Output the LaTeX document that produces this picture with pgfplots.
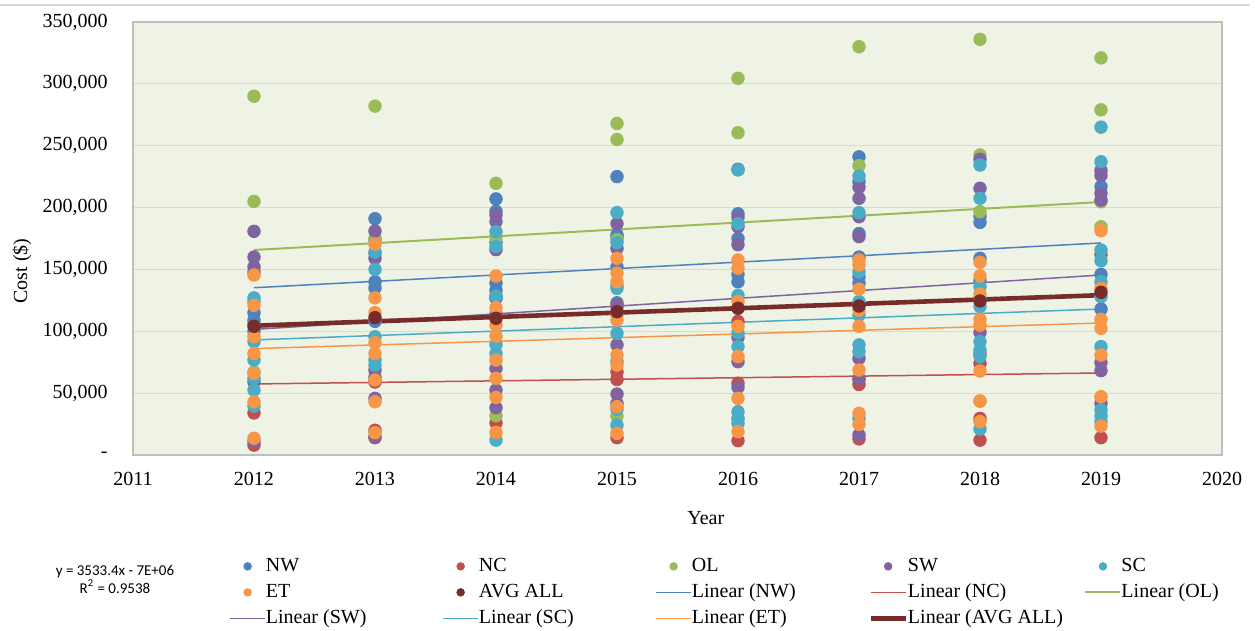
\documentclass[border=0pt]{standalone}
\usepackage{fontspec}
\setmainfont{Liberation Serif}
\newfontfamily\calibri{Carlito}
\usepackage{pgfplots}
\pgfplotsset{compat=1.18}
\definecolor{cNW}{HTML}{4F81BD}
\definecolor{cNC}{HTML}{C0504D}
\definecolor{cOL}{HTML}{9BBB59}
\definecolor{cSW}{HTML}{8064A2}
\definecolor{cSC}{HTML}{4BACC6}
\definecolor{cET}{HTML}{F79646}
\definecolor{cAVG}{HTML}{772C2A}
\definecolor{plotbg}{HTML}{EFF3E5}
\definecolor{gridc}{HTML}{D9D9D9}
\definecolor{axc}{HTML}{BFBFBF}
\newcommand{\lent}[1]{\makebox[88.25pt][l]{#1}}
\begin{document}
\begin{tikzpicture}
\useasboundingbox (-66.5pt,-88pt) rectangle (561pt,227.5pt);
\draw[gridc, line width=0.7pt] (-66.5pt,225pt) -- (558.5pt,225pt);
\begin{axis}[
  at={(0,0)}, anchor=south west,
  scale only axis, width=544.5pt, height=216.5pt,
  xmin=2011, xmax=2020, ymin=0, ymax=350000,
  scaled y ticks=false, scaled x ticks=false,
  xtick={2011,2012,2013,2014,2015,2016,2017,2018,2019,2020},
  xticklabels={2011,2012,2013,2014,2015,2016,2017,2018,2019,2020},
  ytick={0,50000,100000,150000,200000,250000,300000,350000},
  yticklabels={{-},{50,000},{100,000},{150,000},{200,000},{250,000},{300,000},{350,000}},
  major tick length=0pt,
  ymajorgrids, grid style={gridc, line width=0.6pt},
  axis line style={axc, line width=0.9pt},
  axis background/.style={fill=plotbg},
  tick label style={font=\fontsize{10}{12}\selectfont, inner sep=0pt},
  y tick label style={xshift=-12.5pt},
  x tick label style={yshift=-8.5pt},
  xlabel={Year}, ylabel={Cost (\$)},
  label style={font=\fontsize{10}{12}\selectfont, inner sep=0pt},
  xlabel style={at={(axis description cs:0.526,0)}, anchor=center, yshift=-31.5pt},
  ylabel style={at={(axis description cs:0,0.425)}, anchor=center, yshift=55.5pt},
  legend columns=5,
  legend style={at={(axis description cs:0.08815,-0.2332)}, anchor=north west, draw=none, fill=none,
    font=\fontsize{10}{12}\selectfont, inner sep=0pt, row sep=3pt,
    nodes={inner xsep=0pt, inner ysep=0pt, text height=7.5pt, text depth=2.5pt}},
  legend cell align=left,
  legend image code/.code={\draw[mark repeat=2,mark phase=2,#1,mark size=1.9pt] plot coordinates {(0pt,0pt) (8.75pt,0pt) (17.5pt,0pt)};},
  every axis plot/.append style={mark options={draw=none}},
]
% scatter series
\addplot[cNW, only marks, mark=*, mark size=3.15pt] coordinates {
(2012,115000)(2012,109000)(2012,100000)(2012,106000)
(2013,191000)(2013,174000)(2013,163000)(2013,140000)(2013,135000)(2013,108000)
(2014,207000)(2014,197000)(2014,172000)(2014,139000)(2014,133000)(2014,128000)
(2015,225000)(2015,178000)(2015,176000)(2015,152000)(2015,123000)
(2016,231000)(2016,195000)(2016,175000)(2016,146000)(2016,140000)
(2017,241000)(2017,221000)(2017,179000)(2017,160000)(2017,144000)(2017,139000)
(2018,193000)(2018,188000)(2018,159000)(2018,141000)
(2019,217000)(2019,146000)(2019,118000)};
\addlegendentry{\lent{NW}}
\addplot[cNC, only marks, mark=*, mark size=3.15pt] coordinates {
(2012,34000)(2012,8000)
(2013,59000)(2013,20000)(2013,14000)
(2014,26000)(2014,127000)
(2015,121000)(2015,67000)(2015,61000)(2015,14000)
(2016,108000)(2016,58000)(2016,11600)
(2017,61000)(2017,57000)(2017,13000)
(2018,82000)(2018,74000)(2018,29600)(2018,12000)
(2019,162000)(2019,14000)};
\addlegendentry{\lent{NC}}
\addplot[cOL, only marks, mark=*, mark size=3.15pt] coordinates {
(2012,290000)(2012,205000)(2012,67000)
(2013,282000)(2013,175000)
(2014,219600)(2014,176000)(2014,31800)
(2015,268000)(2015,255000)(2015,174000)(2015,31500)
(2016,304500)(2016,260500)(2016,29000)
(2017,330000)(2017,233900)
(2018,336000)(2018,242500)(2018,196700)(2018,43600)
(2019,321000)(2019,279000)(2019,204700)(2019,184500)(2019,47000)};
\addlegendentry{\lent{OL}}
\addplot[cSW, only marks, mark=*, mark size=3.15pt] coordinates {
(2012,180800)(2012,160000)(2012,152000)(2012,148000)(2012,59000)(2012,10800)
(2013,181000)(2013,159000)(2013,68700)(2013,63000)(2013,45800)(2013,14800)
(2014,194000)(2014,188600)(2014,166000)(2014,127000)(2014,114000)(2014,70000)(2014,52500)(2014,38200)
(2015,187000)(2015,167000)(2015,120000)(2015,89000)(2015,49300)(2015,41800)
(2016,192000)(2016,184500)(2016,170000)(2016,95000)(2016,75400)(2016,54700)
(2017,216400)(2017,207500)(2017,192600)(2017,176500)(2017,78000)(2017,62000)(2017,16200)
(2018,239000)(2018,215600)(2018,99000)
(2019,230000)(2019,226000)(2019,211500)(2019,206000)(2019,74600)(2019,68200)(2019,41800)};
\addlegendentry{\lent{SW}}
\addplot[cSC, only marks, mark=*, mark size=3.15pt] coordinates {
(2012,127000)(2012,124000)(2012,91600)(2012,76800)(2012,62000)(2012,52500)(2012,39600)
(2013,164000)(2013,150000)(2013,95600)(2013,76800)(2013,72700)
(2014,180500)(2014,168400)(2014,128500)(2014,89000)(2014,82000)(2014,12000)
(2015,196000)(2015,171600)(2015,137000)(2015,134700)(2015,98300)(2015,75400)(2015,37000)(2015,24200)
(2016,230400)(2016,187000)(2016,129000)(2016,98900)(2016,87600)(2016,35000)(2016,29600)(2016,25600)
(2017,225500)(2017,195900)(2017,148000)(2017,124000)(2017,113000)(2017,89000)(2017,83500)(2017,29600)
(2018,234400)(2018,207500)(2018,136000)(2018,126600)(2018,120000)(2018,91600)(2018,84900)(2018,79500)(2018,21000)
(2019,265000)(2019,237000)(2019,165700)(2019,157000)(2019,140000)(2019,128000)(2019,87600)(2019,36400)(2019,31500)(2019,27000)};
\addlegendentry{\lent{SC}}
\addplot[cET, only marks, mark=*, mark size=3.15pt] coordinates {
(2012,145500)(2012,121000)(2012,95600)(2012,82000)(2012,66000)(2012,43000)(2012,13500)
(2013,170500)(2013,127000)(2013,115000)(2013,90800)(2013,82000)(2013,60600)(2013,43000)(2013,18000)
(2014,144700)(2014,119000)(2014,105000)(2014,96000)(2014,76800)(2014,62000)(2014,46600)(2014,18300)
(2015,159000)(2015,147000)(2015,140000)(2015,113000)(2015,109000)(2015,80800)(2015,72700)(2015,39000)(2015,17500)
(2016,157600)(2016,151000)(2016,124000)(2016,104000)(2016,79500)(2016,45800)(2016,18800)
(2017,157600)(2017,153600)(2017,134000)(2017,117000)(2017,104000)(2017,68700)(2017,33700)(2017,24800)
(2018,155800)(2018,144700)(2018,130000)(2018,109700)(2018,105000)(2018,67900)(2018,43600)(2018,27000)
(2019,181300)(2019,134700)(2019,109700)(2019,102400)(2019,80800)(2019,47000)(2019,23400)};
\addlegendentry{\lent{ET}}
\addplot[cAVG, only marks, mark=*, mark size=3.15pt] coordinates {
(2012,104000)(2013,111000)(2014,110500)(2015,115800)(2016,118600)(2017,120400)(2018,124500)(2019,131500)};
\addlegendentry{\lent{AVG ALL}}
% trendlines
\addplot[cNW, line width=0.75pt, mark=none] coordinates {(2012,135200)(2019,171400)};
\addlegendentry{\lent{Linear (NW)}}
\addplot[cNC, line width=0.75pt, mark=none] coordinates {(2012,57400)(2019,66300)};
\addlegendentry{\lent{Linear (NC)}}
\addplot[cOL, line width=1pt, mark=none] coordinates {(2012,165700)(2019,204500)};
\addlegendentry{\lent{Linear (OL)}}
\addplot[cSW, line width=0.75pt, mark=none] coordinates {(2012,101500)(2019,145500)};
\addlegendentry{\lent{Linear (SW)}}
\addplot[cSC, line width=0.75pt, mark=none] coordinates {(2012,93000)(2019,118000)};
\addlegendentry{\lent{Linear (SC)}}
\addplot[cET, line width=0.75pt, mark=none] coordinates {(2012,86000)(2019,106700)};
\addlegendentry{\lent{Linear (ET)}}
\addplot[cAVG, line width=2.3pt, mark=none] coordinates {(2012,104500)(2019,129200)};
\addlegendentry{\lent{Linear (AVG ALL)}}
\end{axis}
\node[font=\calibri\fontsize{7.5}{9}\selectfont, align=center, inner sep=0pt] at (-9pt,-62pt) {y = 3533.4x - 7E+06\\R\textsuperscript{2} = 0.9538};
\end{tikzpicture}
\end{document}
